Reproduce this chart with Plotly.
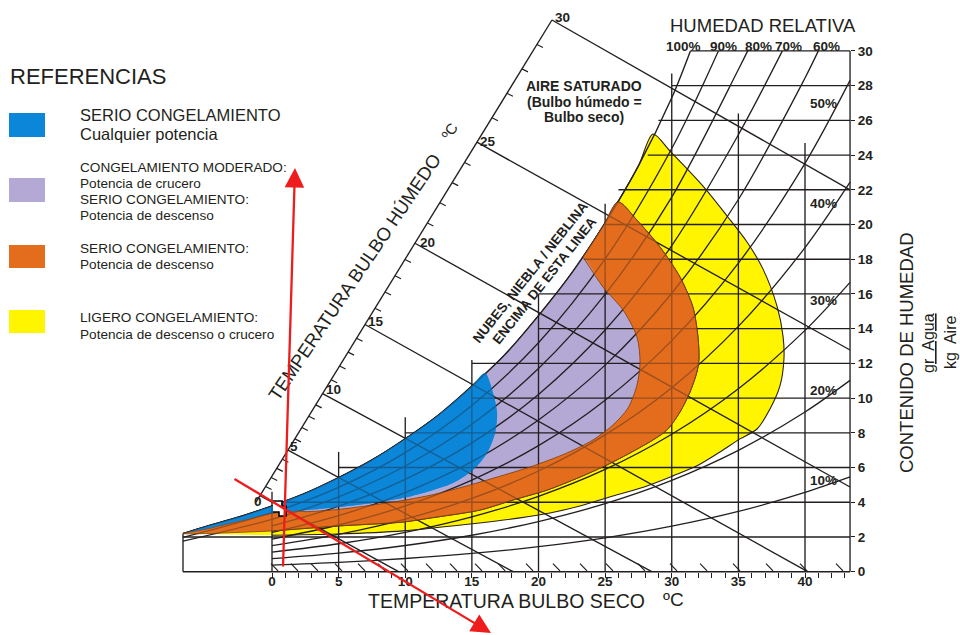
import plotly.graph_objects as go

# ---------------- canvas calibration ----------------
W, H = 960, 635
X0_PX, PX_PER_C = 272.0, 13.325      # pixel column of 0 °C and pixels per °C
Y0_PX, PX_PER_G = 571.7, 17.36       # pixel row of 0 g/kg and pixels per g/kg


def t_of(x_px):
    return (x_px - X0_PX) / PX_PER_C


def w_of(y_px):
    return (Y0_PX - y_px) / PX_PER_G


def pxr(x_px):
    return x_px / W


def pyr(y_px):
    return 1 - y_px / H


FONT = "Liberation Sans, Arial, sans-serif"
INK = "#231f20"

# ---------------- chart data ----------------
T_MIN, T_MAX, W_TOP = -6.68, 43.38, 30.0

dry_ticks = [0, 5, 10, 15, 20, 25, 30, 35, 40]
dry_minor = list(range(0, 44))
hum_ticks = list(range(0, 31, 2))

# saturation curve (100 % humedad relativa)
sat_T = [-6.68, -5, -2.5, 0, 2.5, 5, 7.5, 10, 12.5, 15, 17.5, 20, 22.5, 25, 27.5, 30, 31.4]
sat_W = [2.2, 2.6, 3.15, 3.79, 4.52, 5.42, 6.44, 7.66, 9.03, 10.69, 12.52, 14.75, 17.21, 20.1, 23.38, 27.3, 30.0]

# relative humidity curves
rh90_T = [-6.68, 0, 5, 10, 15, 20, 25, 30, 33.5]
rh90_W = [1.98, 3.40, 4.86, 6.86, 9.57, 13.19, 18.02, 24.38, 30.0]
rh80_T = [-6.68, 0, 5, 10, 15, 20, 25, 30, 35, 35.7]
rh80_W = [1.76, 3.02, 4.31, 6.09, 8.49, 11.70, 15.97, 21.58, 28.93, 30.0]
rh70_T = [0, 5, 10, 15, 20, 25, 30, 35, 38.3]
rh70_W = [2.64, 3.77, 5.32, 7.42, 10.21, 13.92, 18.79, 25.17, 30.0]
rh60_T = [0, 5, 10, 15, 20, 25, 30, 35, 40, 41.0]
rh60_W = [2.26, 3.23, 4.56, 6.34, 8.74, 11.90, 16.04, 21.44, 28.44, 30.0]
rh50_T = [0, 5, 10, 15, 20, 25, 30, 35, 40, 43.38]
rh50_W = [1.88, 2.69, 3.79, 5.28, 7.26, 9.88, 13.31, 17.77, 23.52, 28.30]
rh40_T = [0, 5, 10, 15, 20, 25, 30, 35, 40, 43.38]
rh40_W = [1.50, 2.15, 3.03, 4.22, 5.80, 7.88, 10.60, 14.13, 18.67, 22.44]
rh30_T = [0, 5, 10, 15, 20, 25, 30, 35, 40, 43.38]
rh30_W = [1.13, 1.61, 2.27, 3.16, 4.34, 5.89, 7.92, 10.54, 13.90, 16.67]
rh20_T = [0, 5, 10, 15, 20, 25, 30, 35, 40, 43.38]
rh20_W = [0.75, 1.07, 1.51, 2.10, 2.89, 3.92, 5.26, 6.99, 9.20, 11.02]
rh10_T = [0, 5, 10, 15, 20, 25, 30, 35, 40, 43.38]
rh10_W = [0.38, 0.54, 0.76, 1.05, 1.44, 1.95, 2.62, 3.47, 4.57, 5.46]

# grid
vgrid_T = [0, 5, 10, 15, 20, 25, 30, 35, 40]
vgrid_top = [4.6, 6.9, 8.9, 12.2, 16.0, 21.2, 28.7, 26.4, 24.7]
hgrid_W = [2, 4, 6, 8, 10, 12, 14, 16, 18, 20, 22, 24, 26, 28, 30]
hgrid_start = [-6.68, 0, 5, 10, 15, 15, 20, 20, 23.4, 25, 26.0, 28.2, 29.0, 30, 31.4]

# wet-bulb lines: start on the wet-bulb scale, end on the chart border
wb_labels = [0, 5, 10, 15, 20, 25, 30]
wb_start_T = [-0.90, 1.20, 3.80, 6.98, 10.73, 15.38, 21.01]
wb_start_W = [4.38, 7.00, 10.26, 14.24, 18.92, 24.74, 31.78]
wb_end_T = [9.5, 18.1, 28.5, 40.2, 43.38, 43.38, 43.38]
wb_end_W = [0.0, 0.0, 0.0, 0.0, 4.88, 12.77, 21.99]
wb_scale_T = [-1.2, 21.01]
wb_scale_W = [4.01, 31.78]

# slanted marks along the dry-bulb axis
stub_T = [0.45, 1.95, 3.45, 5.25, 6.98, 8.48, 10.2, 12.08, 13.88, 15.76, 17.5, 19.59,
          21.61, 23.64, 25.59, 27.99, 30.39, 32.65, 35.12, 37.6, 40.15, 42.85]

# icing zones: outer edge of each zone, from the saturation curve round to the tip
yellow_T = [28.59, 29.87, 32.35, 34.15, 35.65, 36.85, 37.90, 38.35, 38.42, 38.12, 37.37, 36.40,
            35.12, 33.62, 31.89, 30.09, 28.14, 25.59, 23.11, 20.86, 18.61, 14.86, 9.83, 4.88, 0.0, -6.68]
yellow_W = [25.21, 24.23, 22.21, 20.49, 18.99, 17.43, 15.30, 13.58, 12.25, 10.70, 9.37, 8.22,
            7.65, 6.90, 6.10, 5.52, 4.94, 4.36, 3.79, 3.38, 3.10, 2.75, 2.35, 2.17, 2.10, 2.2]
orange_T = [25.97, 27.39, 29.12, 30.62, 31.59, 31.97, 32.04, 31.89, 31.37, 30.62, 29.64, 28.59,
            26.87, 25.14, 23.11, 20.64, 18.09, 15.61, 11.86, 9.83, 4.88, 0.0, -6.68]
orange_W = [21.3, 20.25, 18.70, 16.97, 15.24, 13.51, 12.19, 11.50, 10.35, 9.20, 8.16, 7.59,
            6.84, 6.15, 5.45, 4.70, 4.13, 3.55, 3.09, 2.86, 2.63, 2.35, 2.2]
purple_T = [23.34, 24.84, 26.34, 27.39, 27.62, 27.39, 26.72, 25.59, 24.09, 22.14, 19.36, 16.89,
            14.33, 11.86, 9.38, 7.35, 4.88, 2.5]
purple_W = [18.13, 16.40, 15.08, 13.52, 12.08, 10.75, 9.43, 8.45, 7.59, 6.84, 6.03, 5.45,
            4.88, 4.40, 4.05, 3.82, 3.58, 3.46]
blue_T = [15.98, 16.59, 16.89, 16.74, 16.14, 15.08, 13.58, 11.86, 10.0, 8.0, 5.0, 2.0, 0.0, -2.5, -5.0, -6.68]
blue_W = [11.44, 10.29, 9.14, 7.99, 6.84, 5.86, 5.11, 4.65, 4.27, 4.0, 3.72, 3.5, 3.36, 2.9, 2.45, 2.2]

C_BLUE = "#0c86d8"
C_PURPLE = "#b4a9d4"
C_ORANGE = "#e46c1d"
C_YELLOW = "#fff500"

# ---------------- geometry helpers ----------------
sat_pts = list(zip(sat_T, sat_W))


def sat_below(t):
    return [p for p in sat_pts if p[0] < t]


def sat_between(t0, t1):
    return [p for p in sat_pts if t0 < p[0] < t1]


def clean(pts):
    out = []
    for p in pts:
        if not out or (abs(out[-1][0] - p[0]) > 1e-9 or abs(out[-1][1] - p[1]) > 1e-9):
            out.append(p)
    if len(out) > 1 and out[0] == out[-1]:
        out.pop()
    return out


yellow_edge = list(zip(yellow_T, yellow_W))
orange_edge = list(zip(orange_T, orange_W))
purple_edge = list(zip(purple_T, purple_W))
blue_edge = list(zip(blue_T, blue_W))
blue_tail = [p for p in blue_edge if p[0] < purple_T[-1]]

yellow_poly = clean(sat_below(yellow_T[0]) + yellow_edge)
orange_poly = clean(sat_below(orange_T[0]) + orange_edge)
purple_poly = clean(sat_below(purple_T[0]) + purple_edge + blue_tail)
blue_poly = clean(sat_below(blue_T[0]) + blue_edge)
orange_ring = clean(sat_between(purple_T[0], orange_T[0]) + orange_edge
                    + blue_tail[::-1] + purple_edge[::-1])

fig = go.Figure()


def add_fill(pts, color, line_color=None, line_width=0.0):
    fig.add_trace(go.Scatter(
        x=[p[0] for p in pts], y=[p[1] for p in pts], mode="lines",
        fill="toself", fillcolor=color,
        line=dict(color=line_color or color, width=line_width, shape="spline", smoothing=0.8),
        hoverinfo="skip", showlegend=False))


def add_segments(segs, width=1.3, color=INK):
    xs, ys = [], []
    for (x0, y0), (x1, y1) in segs:
        xs += [x0, x1, None]
        ys += [y0, y1, None]
    fig.add_trace(go.Scatter(x=xs, y=ys, mode="lines", line=dict(color=color, width=width),
                             hoverinfo="skip", showlegend=False))


def add_curve(T, Wv, width=1.3, color=INK):
    fig.add_trace(go.Scatter(x=T, y=Wv, mode="lines",
                             line=dict(color=color, width=width, shape="spline", smoothing=0.9),
                             hoverinfo="skip", showlegend=False))


# opaque zone fills (under the grid)
add_fill(yellow_poly, C_YELLOW, "#2b2116", 1.1)
add_fill(orange_poly, C_ORANGE, "#3a2416", 1.0)
add_fill(purple_poly, C_PURPLE)
add_fill(blue_poly, C_BLUE)

# grid
segs = []
for t, top in zip(vgrid_T, vgrid_top):
    segs.append(((t, 0), (t, top)))
for w, t0 in zip(hgrid_W, hgrid_start):
    segs.append(((t0, w), (T_MAX, w)))
segs.append(((T_MIN, 0), (T_MAX, 0)))
segs.append(((T_MIN, 0), (T_MIN, sat_W[0])))
segs.append(((T_MAX, 0), (T_MAX, W_TOP)))
for a, b, c, d in zip(wb_start_T, wb_start_W, wb_end_T, wb_end_W):
    segs.append(((a, b), (c, d)))
segs.append(((wb_scale_T[0], wb_scale_W[0]), (wb_scale_T[1], wb_scale_W[1])))
add_segments(segs, 1.35)

# small ticks on the wet-bulb scale (every degree between labelled values)
tick_segs = []
dT_tick, dW_tick = 6 / PX_PER_C, -3 / PX_PER_G
for d in range(1, 30):
    if d % 5 == 0:
        continue
    k, f = d // 5, (d % 5) / 5
    t = wb_start_T[k] + f * (wb_start_T[k + 1] - wb_start_T[k])
    w = wb_start_W[k] + f * (wb_start_W[k + 1] - wb_start_W[k])
    tick_segs.append(((t, w), (t + dT_tick, w + dW_tick)))
for t in stub_T:
    tick_segs.append(((t - 7 / PX_PER_C, 8 / PX_PER_G), (t, 0.05)))
add_segments(tick_segs, 1.2)

# relative humidity curves and saturation curve
for T, Wv in [(rh90_T, rh90_W), (rh80_T, rh80_W), (rh70_T, rh70_W), (rh60_T, rh60_W),
              (rh50_T, rh50_W), (rh40_T, rh40_W), (rh30_T, rh30_W), (rh20_T, rh20_W),
              (rh10_T, rh10_W)]:
    add_curve(T, Wv, 1.3)
add_curve(sat_T, sat_W, 1.4)

# translucent layers that dim the grid inside the orange and blue zones
add_fill(orange_ring, "rgba(228,108,29,0.62)", "#7a3d12", 0.8)
add_fill(blue_poly, "rgba(12,134,216,0.62)")

# pointer cursor glyph
cur_dx = [0, 9, 9, 13, 13, 6, 6, 0]
cur_dy = [0, 0, 5, 5, 15, 15, 11, 11]
fig.add_trace(go.Scatter(x=[t_of(273 + d) for d in cur_dx], y=[w_of(501 + d) for d in cur_dy],
                         mode="lines", fill="toself", fillcolor="white",
                         line=dict(color="black", width=1.6), hoverinfo="skip", showlegend=False))

# ---------------- text ----------------
annos = []


def txt(x, y, s, size, bold=False, angle=0, xanchor="center", color=INK):
    annos.append(dict(x=pxr(x), y=pyr(y), xref="paper", yref="paper", text=s, showarrow=False,
                      textangle=angle, xanchor=xanchor, yanchor="middle",
                      font=dict(family=FONT, size=size, color=color,
                                weight="bold" if bold else "normal")))


# legend
txt(8, 76, "REFERENCIAS", 22, xanchor="left")
txt(78, 114.5, "SERIO CONGELAMIENTO", 16.5, xanchor="left")
txt(78, 133.5, "Cualquier potencia", 16.5, xanchor="left")
txt(78, 167, "CONGELAMIENTO MODERADO:", 13.6, xanchor="left")
txt(78, 183, "Potencia de crucero", 13.6, xanchor="left")
txt(78, 199, "SERIO CONGELAMIENTO:", 13.6, xanchor="left")
txt(78, 215, "Potencia de descenso", 13.6, xanchor="left")
txt(78, 248, "SERIO CONGELAMIENTO:", 13.6, xanchor="left")
txt(78, 264.5, "Potencia de descenso", 13.6, xanchor="left")
txt(78, 317.5, "LIGERO CONGELAMIENTO:", 13.6, xanchor="left")
txt(78, 334, "Potencia de descenso o crucero", 13.6, xanchor="left")

# relative humidity header and labels
txt(763, 26, "HUMEDAD RELATIVA", 18.5)
for x, s in [(683, "100%"), (723, "90%"), (758, "80%"), (788, "70%"), (826, "60%")]:
    txt(x, 46, s, 13.5, bold=True)
for y, s in [(103, "50%"), (203, "40%"), (300, "30%"), (390, "20%"), (480, "10%")]:
    txt(823, y, s, 13.5, bold=True)

# wet-bulb scale labels and title
wb_label_px = [(258, 501), (294, 447), (333, 389), (376, 321), (427, 242), (488, 141), (562, 17)]
for (x, y), v in zip(wb_label_px, wb_labels):
    txt(x, y, str(v), 13.5, bold=True)
txt(354, 277, "TEMPERATURA BULBO HÚMEDO", 18.5, angle=-56)
txt(449, 131, "ºC", 15, angle=-56)

# notes inside the chart
txt(584, 86, "AIRE SATURADO", 14, bold=True)
txt(584, 102, "(Bulbo húmedo =", 14, bold=True)
txt(584, 117, "Bulbo seco)", 14, bold=True)
txt(530, 272, "NUBES, NIEBLA / NEBLINA", 13.5, bold=True, angle=-51.5)
txt(545, 281, "ENCIMA DE ESTA LINEA", 13.5, bold=True, angle=-51.5)

# axis titles
txt(506, 601, "TEMPERATURA BULBO SECO", 19.5)
txt(673, 599, "ºC", 19)
txt(906, 353, "CONTENIDO DE HUMEDAD", 18.5, angle=-90)
txt(929, 343, "<u>gr  Agua</u>", 16, angle=-90)
txt(951, 343, "kg  Aire", 16, angle=-90)

# red pointer arrows
annos.append(dict(x=pxr(295), y=pyr(168), xref="paper", yref="paper", text="", showarrow=True,
                  ax=283 - 295, ay=568 - 168, arrowhead=2, arrowsize=1.7, arrowwidth=2.3,
                  arrowcolor="#ee1c1c"))
annos.append(dict(x=pxr(491), y=pyr(633), xref="paper", yref="paper", text="", showarrow=True,
                  ax=233 - 491, ay=478 - 633, arrowhead=2, arrowsize=1.7, arrowwidth=2.3,
                  arrowcolor="#ee1c1c"))

# legend swatches
shapes = []
for (y0, y1), c in zip([(113, 137), (178, 202), (245, 268), (310, 333)],
                       [C_BLUE, C_PURPLE, C_ORANGE, C_YELLOW]):
    shapes.append(dict(type="rect", xref="paper", yref="paper", x0=pxr(9), x1=pxr(45),
                       y0=pyr(y1), y1=pyr(y0), fillcolor=c, line=dict(width=0)))

fig.update_layout(
    width=W, height=H, margin=dict(l=0, r=0, t=0, b=0),
    paper_bgcolor="white", plot_bgcolor="white", showlegend=False, hovermode=False,
    annotations=annos, shapes=shapes,
    xaxis=dict(range=[t_of(0), t_of(W)], showgrid=False, zeroline=False, showline=False,
               anchor="free", position=(H - Y0_PX) / H,
               tickmode="array", tickvals=dry_ticks, ticktext=[str(v) for v in dry_ticks],
               ticks="", tickfont=dict(family=FONT, size=13.5, color=INK, weight="bold"),
               minor=dict(tickmode="array", tickvals=dry_minor, ticks="outside", ticklen=5,
                          tickcolor=INK, tickwidth=1.2),
               fixedrange=True),
    yaxis=dict(range=[w_of(H), w_of(0)], showgrid=False, zeroline=False, showline=False,
               side="right", anchor="free", position=850 / W,
               tickmode="array", tickvals=hum_ticks, ticktext=[str(v) for v in hum_ticks],
               ticks="outside", ticklen=4, tickcolor=INK, tickwidth=1.3,
               tickfont=dict(family=FONT, size=13.5, color=INK, weight="bold"),
               fixedrange=True),
)

fig.write_html("out.html")
